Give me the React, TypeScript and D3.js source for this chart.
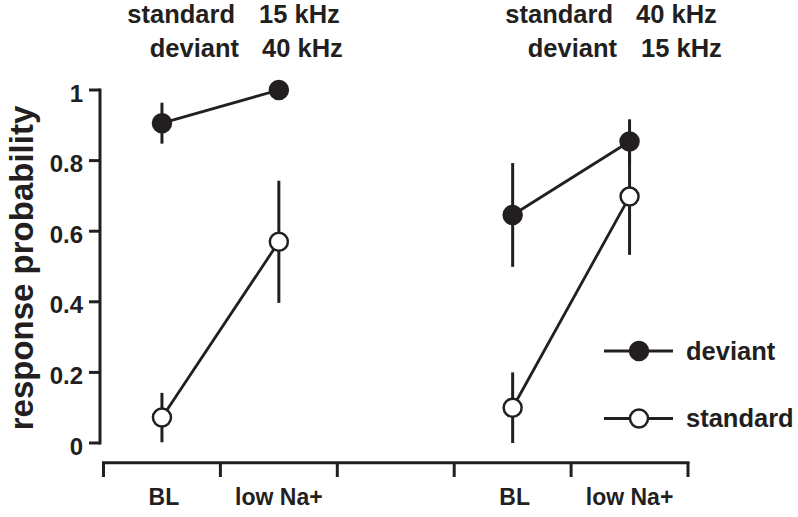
import React from "react";
import * as d3 from "d3";

// ---- data ----
const slots = ["p1-BL", "p1-Na", "gap", "p2-BL", "p2-Na"];
const slotLabels = ["BL", "low Na+", "", "BL", "low Na+"];
const pointSlots = ["p1-BL", "p1-Na", "p2-BL", "p2-Na"];
const deviantMean = [0.906, 1.0, 0.646, 0.854];
const deviantErr = [0.058, 0, 0.147, 0.063];
const standardMean = [0.072, 0.57, 0.1, 0.698];
const standardErr = [0.07, 0.173, 0.1, 0.165];
const yTicks = [0, 0.2, 0.4, 0.6, 0.8, 1];
const headers = [
  { lines: [["standard", "15 kHz"], ["deviant", "40 kHz"]] },
  { lines: [["standard", "40 kHz"], ["deviant", "15 kHz"]] },
];
const legendItems = ["deviant", "standard"];

const INK = "#231f20";
const FONT = "'Liberation Sans', Arial, Helvetica, sans-serif";

export default function App() {
  const W = 798, H = 517;
  const x = d3.scaleBand<string>().domain(slots).range([103.5, 688]).padding(0);
  const y = d3.scaleLinear().domain([0, 1]).range([443, 90]);
  const cx = (s: string) => (x(s) as number) + x.bandwidth() / 2;
  const fmt = d3.format("~g");

  const panels = [
    [0, 1],
    [2, 3],
  ];
  const line = d3
    .line<number>()
    .x((i) => cx(pointSlots[i]))
    .y((i) => 0);

  const series = [
    { name: "deviant", mean: deviantMean, err: deviantErr, fill: INK },
    { name: "standard", mean: standardMean, err: standardErr, fill: "#fff" },
  ];

  const boundaries = slots.map((s) => x(s) as number).concat([x.range()[1]]);

  const headerX = [
    { right: 235, val: 259, dRight: 239, dVal: 262 },
    { right: 613, val: 636, dRight: 617, dVal: 641 },
  ];

  return (
    <svg
      width={W}
      height={H}
      style={{ position: "absolute", left: 0, top: 0, background: "#fff" }}
      fontFamily={FONT}
    >
      <rect width={W} height={H} fill="#fff" />
      {/* headers */}
      {headers.map((h, pi) => (
        <g key={pi} fontWeight="bold" fontSize={25.5} fill={INK}>
          <text x={headerX[pi].right} y={23} textAnchor="end">{h.lines[0][0]}</text>
          <text x={headerX[pi].val} y={23}>{h.lines[0][1]}</text>
          <text x={headerX[pi].dRight} y={57} textAnchor="end">{h.lines[1][0]}</text>
          <text x={headerX[pi].dVal} y={57}>{h.lines[1][1]}</text>
        </g>
      ))}

      {/* y axis */}
      <g>
        <line x1={100} x2={100} y1={y(1) - 1.5} y2={y(0) + 1.5} stroke={INK} strokeWidth={3} />
        {yTicks.map((t) => (
          <g key={t}>
            <line x1={89} x2={100} y1={y(t)} y2={y(t)} stroke={INK} strokeWidth={3} />
            <text x={83} y={y(t) + 11.5} textAnchor="end" fontWeight="bold" fontSize={24} fill={INK}>
              {fmt(t)}
            </text>
          </g>
        ))}
        <text
          transform={`translate(33, ${268}) rotate(-90)`}
          textAnchor="middle"
          fontWeight="bold"
          fontSize={33}
          fill={INK}
        >
          response probability
        </text>
      </g>

      {/* x axis */}
      <g>
        <line x1={x.range()[0] - 1.5} x2={x.range()[1] + 1.5} y1={462.7} y2={462.7} stroke={INK} strokeWidth={3} />
        {boundaries.map((b, i) => (
          <line key={i} x1={b} x2={b} y1={462.7} y2={477} stroke={INK} strokeWidth={3} />
        ))}
        {slots.map((s, i) =>
          slotLabels[i] ? (
            <text key={s} x={cx(s) + (slotLabels[i] === "BL" ? 2 : 0)} y={505} textAnchor="middle" fontWeight="bold" fontSize={23} fill={INK}>
              {slotLabels[i]}
            </text>
          ) : null
        )}
      </g>

      {/* error bars */}
      {series.map((se) =>
        se.mean.map((m, i) =>
          se.err[i] > 0 ? (
            <line
              key={se.name + i}
              x1={cx(pointSlots[i])}
              x2={cx(pointSlots[i])}
              y1={y(Math.min(1, m + se.err[i]))}
              y2={y(Math.max(0, m - se.err[i]))}
              stroke={INK}
              strokeWidth={3}
            />
          ) : null
        )
      )}

      {/* connecting lines */}
      {series.map((se) =>
        panels.map((p, pi) => {
          const path = d3
            .line<number>()
            .x((i) => cx(pointSlots[i]))
            .y((i) => y(se.mean[i]))(p);
          return <path key={se.name + pi} d={path || ""} fill="none" stroke={INK} strokeWidth={2.8} />;
        })
      )}

      {/* markers */}
      {series.map((se) =>
        se.mean.map((m, i) => (
          <circle
            key={se.name + "c" + i}
            cx={cx(pointSlots[i])}
            cy={y(m)}
            r={9}
            fill={se.fill}
            stroke={INK}
            strokeWidth={2.5}
          />
        ))
      )}

      {/* legend */}
      {legendItems.map((name, i) => {
        const ly = 351 + i * 67.5;
        const se = series.find((s) => s.name === name)!;
        return (
          <g key={name}>
            <line x1={604} x2={673} y1={ly} y2={ly} stroke={INK} strokeWidth={2.8} />
            <circle cx={639} cy={ly} r={9} fill={se.fill} stroke={INK} strokeWidth={2.5} />
            <text x={686} y={ly + 8.5} fontWeight="bold" fontSize={25.5} fill={INK}>
              {name}
            </text>
          </g>
        );
      })}
    </svg>
  );
}
